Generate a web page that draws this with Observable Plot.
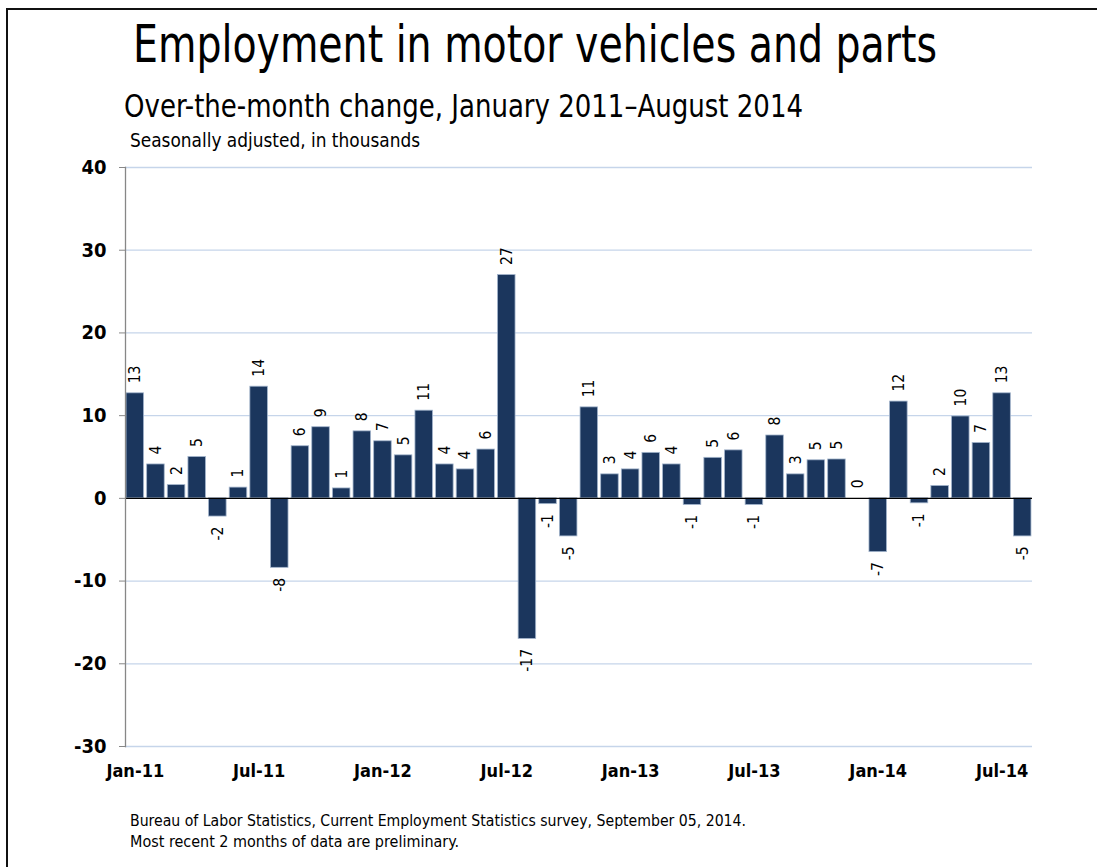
<!DOCTYPE html>
<html>
<head>
<meta charset="utf-8">
<script src="https://cdn.jsdelivr.net/npm/d3@7"></script>
<script src="https://cdn.jsdelivr.net/npm/@observablehq/plot@0.6"></script>
<style>
  body { margin: 0; background: #fff; }
  #wrap { position: relative; width: 1097px; height: 867px; overflow: hidden; background: #fff;
          font-family: "DejaVu Sans Condensed", "DejaVu Sans", sans-serif; }
  #frame { position: absolute; left: 6px; top: 8px; width: 1200px; height: 1000px;
           border-top: 2px solid #111; border-left: 2px solid #111; }
  #chart { position: absolute; left: 0; top: 0; }
  .t { position: absolute; white-space: nowrap; line-height: 1; color: #000; transform-origin: 0 0; }
</style>
</head>
<body>
<div id="wrap">
  <div id="frame"></div>
  <div id="chart"></div>
  <div class="t" id="title" style="left:133px; top:19px; font-size:51px;" data-w="804">Employment in motor vehicles and parts</div>
  <div class="t" id="subtitle" style="left:124px; top:90px; font-size:32px;" data-w="679">Over-the-month change, January 2011–August 2014</div>
  <div class="t" id="subsub" style="left:130px; top:130px; font-size:20px;" data-w="290">Seasonally adjusted, in thousands</div>
  <div class="t" id="cap1" style="left:130px; top:813px; font-size:16px;" data-w="616">Bureau of Labor Statistics, Current Employment Statistics survey, September 05, 2014.</div>
  <div class="t" id="cap2" style="left:130px; top:834px; font-size:16px;" data-w="329">Most recent 2 months of data are preliminary.</div>
</div>
<script>
const months = [
  "Jan-11","Feb-11","Mar-11","Apr-11","May-11","Jun-11","Jul-11","Aug-11","Sep-11","Oct-11","Nov-11","Dec-11",
  "Jan-12","Feb-12","Mar-12","Apr-12","May-12","Jun-12","Jul-12","Aug-12","Sep-12","Oct-12","Nov-12","Dec-12",
  "Jan-13","Feb-13","Mar-13","Apr-13","May-13","Jun-13","Jul-13","Aug-13","Sep-13","Oct-13","Nov-13","Dec-13",
  "Jan-14","Feb-14","Mar-14","Apr-14","May-14","Jun-14","Jul-14","Aug-14"
];
const values = [
  12.7, 4.1, 1.6, 5.0, -2.2, 1.3, 13.5, -8.4, 6.3, 8.6, 1.2, 8.1,
  6.9, 5.2, 10.6, 4.1, 3.5, 5.9, 27.0, -17.0, -0.7, -4.6, 11.0, 2.9,
  3.5, 5.5, 4.1, -0.8, 4.9, 5.8, -0.8, 7.6, 2.9, 4.6, 4.7, 0.0,
  -6.5, 11.7, -0.6, 1.5, 9.9, 6.7, 12.7, -4.6
];
const valueLabels = [
  "13","4","2","5","-2","1","14","-8","6","9","1","8",
  "7","5","11","4","4","6","27","-17","-1","-5","11","3",
  "4","6","4","-1","5","6","-1","8","3","5","5","0",
  "-7","12","-1","2","10","7","13","-5"
];
const xTickLabels = ["Jan-11","Jul-11","Jan-12","Jul-12","Jan-13","Jul-13","Jan-14","Jul-14"];
const yTicks = [-30, -20, -10, 0, 10, 20, 30, 40];

const data = months.map((m, i) => ({month: m, value: values[i], label: valueLabels[i]}));
const FONT = '"DejaVu Sans Condensed", "DejaVu Sans", sans-serif';

const chart = Plot.plot({
  width: 1097,
  height: 867,
  marginTop: 167,
  marginBottom: 121,
  marginLeft: 125,
  marginRight: 65,
  style: {background: "transparent", fontFamily: FONT, color: "#000"},
  x: {type: "band", domain: months, paddingInner: 0.15, paddingOuter: 0.05, round: false},
  y: {domain: [-30, 40]},
  marks: [
    Plot.ruleY(yTicks.filter(d => d !== 0), {stroke: "#c6d5ea", strokeWidth: 1.3}),
    Plot.barY(data, {x: "month", y: "value", fill: "#1b365d", stroke: "#a3b5cc", strokeWidth: 0.8}),
    Plot.ruleY([0], {stroke: "#000", strokeWidth: 1.4}),
    Plot.frame({anchor: "left", stroke: "#878787", strokeWidth: 1.3}),
    Plot.axisY(yTicks, {anchor: "left", tickSize: 6, tickPadding: 13, stroke: "#878787", fill: "#000",
      fontWeight: "bold", fontSize: 20, tickFormat: d => String(d), label: null}),
    Plot.axisX(xTickLabels, {anchor: "bottom", tickSize: 0, tickPadding: 18, fill: "#000",
      fontWeight: "bold", fontSize: 18, label: null}),
    Plot.text(data.filter(d => d.value >= 0), {x: "month", y: "value", text: "label", rotate: -90,
      textAnchor: "start", dy: -10, fontSize: 15.5, fill: "#000"}),
    Plot.text(data.filter(d => d.value < 0), {x: "month", y: "value", text: "label", rotate: -90,
      textAnchor: "end", dy: 10, fontSize: 15.5, fill: "#000"})
  ]
});
document.getElementById("chart").appendChild(chart);

function fit() {
  document.querySelectorAll(".t").forEach(el => {
    el.style.transform = "none";
    const w = el.getBoundingClientRect().width;
    const target = +el.dataset.w;
    if (w > 0) el.style.transform = `scaleX(${target / w})`;
  });
}
fit();
if (document.fonts && document.fonts.ready) document.fonts.ready.then(fit);
</script>
</body>
</html>
